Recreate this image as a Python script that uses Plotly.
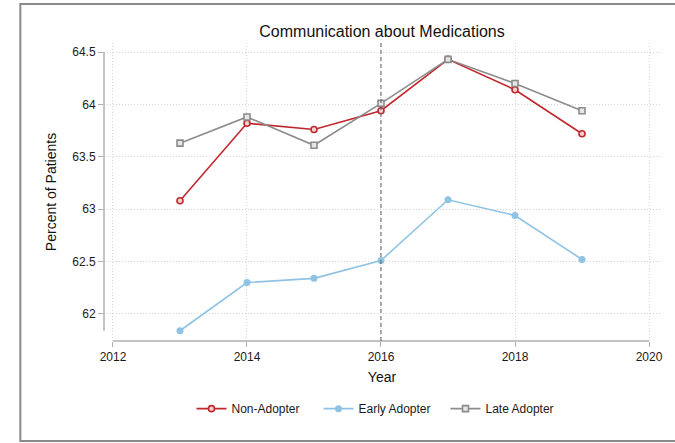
import plotly.graph_objects as go

# Survey results by adopter group
years = [2013, 2014, 2015, 2016, 2017, 2018, 2019]
non_adopter = [63.08, 63.82, 63.76, 63.94, 64.43, 64.14, 63.72]
early_adopter = [61.84, 62.30, 62.34, 62.51, 63.09, 62.94, 62.52]
late_adopter = [63.63, 63.88, 63.61, 64.01, 64.43, 64.20, 63.94]

x_ticks = [2012, 2014, 2016, 2018, 2020]
y_ticks = [62, 62.5, 63, 63.5, 64, 64.5]
y_tick_text = ["62", "62.5", "63", "63.5", "64", "64.5"]
policy_year = 2016

RED = "#c0272d"
BLUE = "#8fc3e3"
GRAY = "#8c8c8c"
AXIS = "#b0b0b0"
FONT = "Liberation Sans, Arial, Helvetica, sans-serif"

fig = go.Figure()

fig.add_trace(go.Scatter(
    x=years, y=non_adopter, name="Non-Adopter", mode="lines+markers",
    line=dict(color=RED, width=1.6),
    marker=dict(symbol="circle", size=6, color="#f4d0d0",
                line=dict(color=RED, width=1.6)),
))
fig.add_trace(go.Scatter(
    x=years, y=early_adopter, name="Early Adopter", mode="lines+markers",
    line=dict(color=BLUE, width=1.6),
    marker=dict(symbol="circle", size=7, color=BLUE),
))
fig.add_trace(go.Scatter(
    x=years, y=late_adopter, name="Late Adopter", mode="lines+markers",
    line=dict(color=GRAY, width=1.6),
    marker=dict(symbol="square", size=6, color="#e6e6e6",
                line=dict(color=GRAY, width=1.6)),
))

y_low = min(min(non_adopter), min(early_adopter), min(late_adopter))

shapes = [
    # outer frame
    dict(type="rect", xref="paper", yref="paper", x0=-0.1505, x1=1.05,
         y0=-0.3355, y1=1.131, line=dict(color="#8a8a8a", width=2),
         layer="below"),
    # detached y-axis line
    dict(type="line", xref="paper", yref="y", x0=0, x1=0,
         y0=y_low, y1=max(y_ticks), line=dict(color=AXIS, width=1.5)),
    # detached x-axis line
    dict(type="line", xref="x", yref="paper", x0=x_ticks[0], x1=x_ticks[-1],
         y0=0, y1=0, line=dict(color=AXIS, width=1.5)),
    # policy year reference line
    dict(type="line", xref="x", yref="paper", x0=policy_year, x1=policy_year,
         y0=0, y1=1, line=dict(color="#5e5e5e", width=1, dash="4px,3px")),
]

fig.update_layout(
    width=675, height=443,
    margin=dict(l=104, r=13, t=43, b=102),
    paper_bgcolor="white", plot_bgcolor="white",
    font=dict(family=FONT, color="#1a1a1a", size=12),
    title=dict(text="Communication about Medications", x=0.5, xref="paper",
               xanchor="center", y=1 - 31 / 443, yanchor="middle",
               font=dict(size=16, family=FONT, color="#111")),
    showlegend=True,
    legend=dict(orientation="h", x=0.5, xref="paper", xanchor="center",
                y=-0.227, yanchor="middle", font=dict(size=12, family=FONT),
                bgcolor="rgba(0,0,0,0)", entrywidth=82, tracegroupgap=0),
    shapes=shapes,
)

fig.update_xaxes(
    range=[2011.866, 2020.164], tickvals=x_ticks,
    showline=False, zeroline=False,
    showgrid=True, gridcolor="#d6d6d6", griddash="1px,2px", gridwidth=1,
    ticks="outside", ticklen=5, tickcolor=AXIS, tickwidth=1.2,
    tickfont=dict(size=12, family=FONT, color="#1a1a1a"),
    title=dict(text="Year", font=dict(size=14, family=FONT, color="#111"),
               standoff=8),
)
fig.update_yaxes(
    range=[61.742, 64.586], tickvals=y_ticks, ticktext=y_tick_text,
    showline=False, zeroline=False,
    showgrid=True, gridcolor="#d6d6d6", griddash="1px,2px", gridwidth=1,
    ticks="outside", ticklen=5, tickcolor=AXIS, tickwidth=1.2,
    tickfont=dict(size=12, family=FONT, color="#1a1a1a"),
    title=dict(text="Percent of Patients",
               font=dict(size=14, family=FONT, color="#111"), standoff=12),
)

fig.write_html("out.html")
